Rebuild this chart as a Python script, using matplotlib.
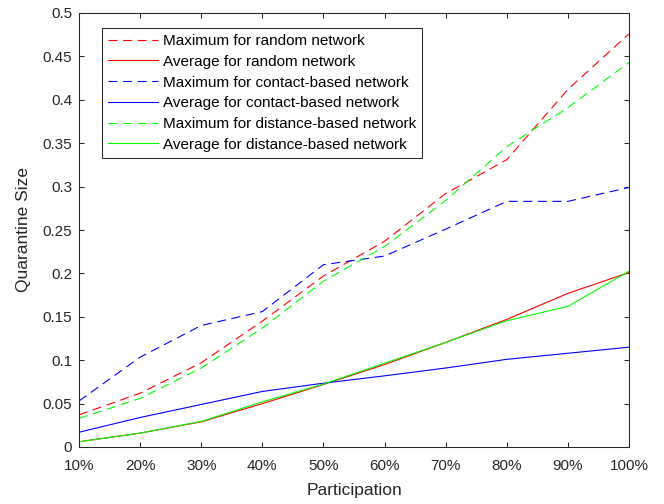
import numpy as np
import matplotlib
matplotlib.use('Agg')
import matplotlib.pyplot as plt

# participation levels (10% .. 100%)
participation = [10, 20, 30, 40, 50, 60, 70, 80, 90, 100]
tick_labels = [f'{p}%' for p in participation]

# quarantine size
max_random = [0.037, 0.062, 0.097, 0.145, 0.197, 0.237, 0.292, 0.331, 0.412, 0.476]
avg_random = [0.006, 0.016, 0.029, 0.050, 0.072, 0.095, 0.1205, 0.147, 0.177, 0.201]
max_contact = [0.053, 0.1035, 0.140, 0.156, 0.210, 0.220, 0.251, 0.283, 0.283, 0.299]
avg_contact = [0.017, 0.034, 0.049, 0.064, 0.0735, 0.082, 0.091, 0.101, 0.108, 0.115]
max_distance = [0.033, 0.056, 0.091, 0.137, 0.191, 0.231, 0.284, 0.346, 0.391, 0.443]
avg_distance = [0.006, 0.016, 0.0295, 0.052, 0.0725, 0.0966, 0.1205, 0.1455, 0.162, 0.2025]

plt.rcParams['font.family'] = ['Liberation Sans', 'DejaVu Sans']
plt.rcParams['font.size'] = 11
plt.rcParams['lines.scale_dashes'] = False

txt = '#262626'
dash = (6.5, 4.0)

fig = plt.figure(figsize=(6.64, 5.04), dpi=100)
ax = fig.add_axes([79 / 664, 57 / 504, 550 / 664, 434 / 504])

lw = 0.8
ax.plot(participation, max_random, color='red', lw=lw, dashes=dash, label='Maximum for random network')
ax.plot(participation, avg_random, color='red', lw=lw, label='Average for random network')
ax.plot(participation, max_contact, color='blue', lw=lw, dashes=dash, label='Maximum for contact-based network')
ax.plot(participation, avg_contact, color='blue', lw=lw, label='Average for contact-based network')
ax.plot(participation, max_distance, color='#00ff00', lw=lw, dashes=dash, label='Maximum for distance-based network')
ax.plot(participation, avg_distance, color='#00ff00', lw=lw, label='Average for distance-based network')

ax.set_xlim(10, 100)
ax.set_ylim(0, 0.5)
ax.set_xticks(participation)
ax.set_xticklabels(tick_labels)
ax.set_yticks(np.arange(0, 0.51, 0.05))
ax.set_yticklabels(['0', '0.05', '0.1', '0.15', '0.2', '0.25', '0.3', '0.35', '0.4', '0.45', '0.5'])

ax.tick_params(direction='in', length=3.6, width=0.75, top=True, right=True,
               colors=txt, labelsize=11, labelcolor=txt)
ax.tick_params(axis='x', pad=9)
ax.tick_params(axis='y', pad=5)
for s in ax.spines.values():
    s.set_color(txt)
    s.set_linewidth(0.75)

ax.set_xlabel('Participation', fontsize=12.5, color=txt, labelpad=7)
ax.set_ylabel('Quarantine Size', fontsize=12.5, color=txt, labelpad=8)

leg = ax.legend(loc='upper left', bbox_to_anchor=(23 / 550, 419 / 434),
                fancybox=False, framealpha=1, edgecolor=txt, fontsize=11,
                handlelength=3.27, handletextpad=0.33, borderpad=0.4,
                labelspacing=0.44, borderaxespad=0)
leg.get_frame().set_linewidth(0.75)
for t in leg.get_texts():
    t.set_color('black')

fig.savefig('out.png', dpi=100)
